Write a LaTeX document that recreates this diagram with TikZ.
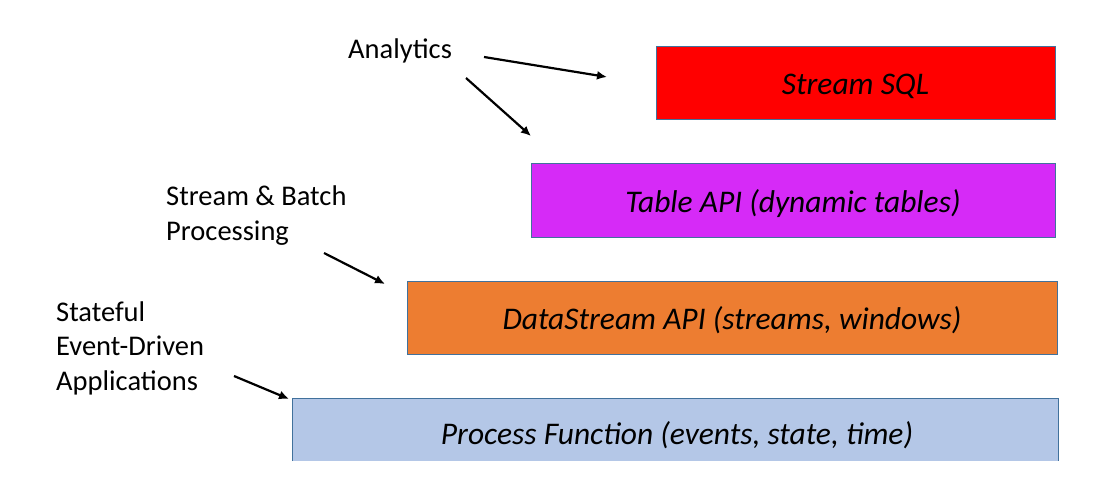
\documentclass[tikz,border=0pt]{standalone}
\usepackage{fontspec}
\setmainfont{Carlito}
\usepackage{tikz}
\usetikzlibrary{arrows.meta,positioning}
\definecolor{sqlred}{RGB}{255,0,0}
\definecolor{tablemag}{RGB}{214,42,247}
\definecolor{dsorange}{RGB}{237,125,49}
\definecolor{pfblue}{RGB}{180,199,231}
\definecolor{edgeblue}{RGB}{65,113,156}
\tikzset{
  layer/.style={draw=edgeblue, line width=1pt, inner sep=0pt,
    minimum height=73pt, text height=26pt, text depth=3pt,
    font=\fontsize{31.5}{36}\selectfont\itshape},
  usecase/.style={inner sep=0pt, align=left, anchor=base west,
    font=\fontsize{28.5}{34.5}\selectfont},
  pointer/.style={-{Latex[length=10pt,width=9pt]}, line width=2.2pt}
}
\begin{document}
\begin{tikzpicture}[x=1pt,y=-1pt]
  \useasboundingbox (0,0) rectangle (1098,484);
  % API layers, top to bottom
  \node[layer, fill=sqlred, minimum width=399pt] (sql) at (855.5,83.5) {Stream SQL};
  \node[layer, fill=tablemag, minimum width=524pt] (table) at (793,200.5) {Table API (dynamic tables)};
  \node[layer, fill=dsorange, minimum width=650pt] (ds) at (732,318) {DataStream API (streams, windows)};
  % lowest layer is cut off at the bottom
  \fill[pfblue] (292,398) rectangle (1058,461);
  \node[layer, draw=none, minimum height=0pt] (pf) at (677,432.5) {Process Function (events, state, time)};
  \draw[edgeblue, line width=1pt] (292,461) -- (292,398) -- (1058,398) -- (1058,461);
  % use cases (anchored at the last line)
  \node[usecase] (ana) at (348,59) {Analytics};
  \node[usecase] (sbp) at (166,240) {Stream \& Batch\\Processing};
  \node[usecase] (sed) at (56,390) {Stateful\\Event-Driven\\Applications};
  % arrow ends
  \coordinate (a1s) at (484,57);
  \coordinate (a1e) at (607,77);
  \coordinate (a2s) at (466,78);
  \coordinate (a2e) at (531,136);
  \coordinate (a3s) at (324,253);
  \coordinate (a3e) at (385,284);
  \coordinate (a4s) at (234,376);
  \coordinate (a4e) at (289,399);
  \draw[pointer] (a1s) -- (a1e);
  \draw[pointer] (a2s) -- (a2e);
  \draw[pointer] (a3s) -- (a3e);
  \draw[pointer] (a4s) -- (a4e);
\end{tikzpicture}
\end{document}
